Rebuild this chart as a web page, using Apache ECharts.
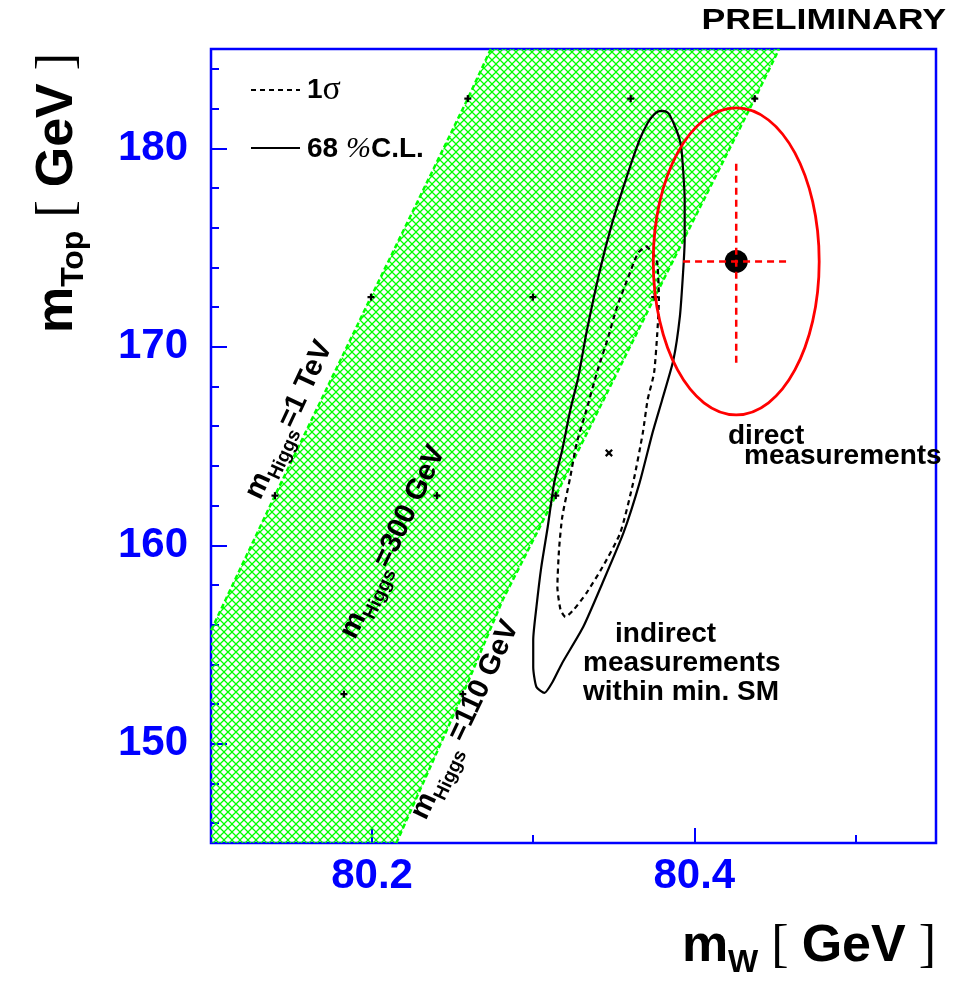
<!DOCTYPE html>
<html>
<head>
<meta charset="utf-8">
<script src="https://cdn.jsdelivr.net/npm/echarts@6/dist/echarts.min.js"></script>
<style>
  html, body { margin: 0; padding: 0; background: #ffffff; }
  #chart { width: 961px; height: 981px; }
</style>
</head>
<body>
<div id="chart"></div>
<script>
// ---- axis ticks (GeV) ----
const xMajorTicks = [80.2, 80.4];
const xMinorTicks = [80.1, 80.3, 80.5];
const yMajorTicks = [150, 160, 170, 180];
const yMinorTicks = [146, 148, 152, 154, 156, 158, 162, 164, 166, 168, 172, 174, 176, 178, 182, 184];

// ---- SM prediction band, [mW, mTop] ----
// m_Higgs = 1 TeV edge (top to bottom)
const higgs1TeV = [[80.2737, 185], [80.2594, 182.5], [80.1993, 172.5], [80.1397, 162.5], [80.1, 155.7]];
// m_Higgs = 110 GeV edge (bottom to top)
const higgs110GeV = [[80.215, 145], [80.2563, 152.5], [80.281, 157.24], [80.314, 162.5], [80.3754, 172.5], [80.4375, 182.5], [80.4526, 185]];
const bandCorner = [[80.1, 145]];
// grid points on the 1 TeV, 300 GeV and 110 GeV lines
const higgsPoints = [
  [80.2594, 182.5], [80.1993, 172.5], [80.1397, 162.5],
  [80.3605, 182.5], [80.2998, 172.5], [80.2402, 162.5], [80.1825, 152.5],
  [80.4375, 182.5], [80.3754, 172.5], [80.314, 162.5], [80.2563, 152.5]
];
const bestFit = [[80.347, 164.65]];

// ---- indirect measurements, fit contours ----
const contour68 = [
  [80.3802, 181.88], [80.3829, 181.83], [80.3847, 181.68], [80.3889, 180.92], [80.3914, 180.26],
  [80.3926, 179.41], [80.394, 177.39], [80.394, 175.38], [80.393, 173.72], [80.391, 171.50],
  [80.387, 169.33], [80.380, 167.32], [80.374, 165.65], [80.366, 163.14], [80.356, 160.62],
  [80.343, 158.10], [80.331, 155.88], [80.318, 154.07], [80.312, 153.11], [80.307, 152.56],
  [80.302, 152.86], [80.300, 153.87], [80.300, 155.23], [80.302, 156.89], [80.305, 158.90],
  [80.309, 160.92], [80.313, 163.14], [80.318, 164.80], [80.323, 166.81], [80.328, 168.48],
  [80.333, 170.69], [80.341, 173.72], [80.349, 176.23], [80.358, 178.55], [80.366, 180.42],
  [80.3712, 181.30], [80.3750, 181.70], [80.3776, 181.85], [80.3802, 181.88]
];
const contour1Sigma = [
  [80.370, 175.08], [80.374, 174.75], [80.377, 174.22], [80.378, 172.36], [80.377, 170.69],
  [80.375, 168.68], [80.371, 167.32], [80.368, 165.65], [80.362, 163.14], [80.354, 160.62],
  [80.343, 158.90], [80.333, 157.59], [80.325, 156.74], [80.320, 156.39], [80.317, 156.74],
  [80.315, 157.90], [80.316, 159.76], [80.318, 161.42], [80.323, 163.44], [80.327, 165.15],
  [80.333, 166.81], [80.340, 168.83], [80.346, 170.34], [80.352, 172.00], [80.359, 173.51],
  [80.365, 174.72], [80.370, 175.08]
];

// ---- direct measurements ----
const directPoint = [[80.426, 174.3]];
const directErrors = [0.033, 5.1];      // mW, mTop
const directEllipse = [0.0515, 7.73];   // 68% C.L. half axes

// cross-hatch fill for the band
const hatch = document.createElement('canvas');
hatch.width = 8; hatch.height = 8;
(function () {
  const g = hatch.getContext('2d');
  g.strokeStyle = '#00ff00';
  g.lineWidth = 1.25;
  g.beginPath();
  g.moveTo(-2, -2); g.lineTo(10, 10);
  g.moveTo(10, -2); g.lineTo(-2, 10);
  g.stroke();
})();

const SANS = 'Liberation Sans';
const SERIF = 'Liberation Serif';
const BLUE = '#0000ff';

function crossMark(size, diagonal) {
  return function (params, api) {
    const p = api.coord([api.value(0), api.value(1)]);
    const h = size;
    const segs = diagonal
      ? [[-h, -h, h, h], [-h, h, h, -h]]
      : [[-h, 0, h, 0], [0, -h, 0, h]];
    return {
      type: 'group',
      children: segs.map(s => ({
        type: 'line',
        shape: { x1: p[0] + s[0], y1: p[1] + s[1], x2: p[0] + s[2], y2: p[1] + s[3] },
        style: { stroke: '#000', lineWidth: 2.2 }
      }))
    };
  };
}

// rich text styles for labels with a subscript
function subRich(fs, fs2, drop) {
  return {
    m: { fontSize: fs, fontWeight: 'bold', fontFamily: SANS, lineHeight: fs, verticalAlign: 'top', fill: '#000' },
    s: { fontSize: fs2, fontWeight: 'bold', fontFamily: SANS, lineHeight: fs2, verticalAlign: 'top',
         padding: [Math.round(0.85 * (fs - fs2) + drop), 0, 0, 0], fill: '#000' },
    b: { fontSize: fs, fontWeight: 'normal', fontFamily: SERIF, lineHeight: fs, verticalAlign: 'top', fill: '#000' }
  };
}

const chart = echarts.init(document.getElementById('chart'));

const yAxisBase = {
  type: 'value', min: 145, max: 185, position: 'left',
  axisLine: { show: false }, splitLine: { show: false }
};
const xAxisBase = {
  type: 'value', min: 80.1, max: 80.55, position: 'bottom',
  axisLine: { show: false }, splitLine: { show: false }
};

chart.setOption({
  animation: false,
  backgroundColor: '#ffffff',
  grid: {
    left: 211, top: 49, right: 25, bottom: 138,
    show: true, borderColor: BLUE, borderWidth: 2.5, backgroundColor: 'transparent'
  },
  xAxis: [
    Object.assign({}, xAxisBase, {
      axisTick: { show: true, inside: true, length: 15, customValues: xMajorTicks, lineStyle: { color: BLUE, width: 2 } },
      axisLabel: {
        customValues: xMajorTicks, formatter: v => v.toFixed(1), margin: 12,
        color: BLUE, fontSize: 42, fontWeight: 'bold', fontFamily: SANS
      }
    }),
    Object.assign({}, xAxisBase, {
      axisTick: { show: true, inside: true, length: 8, customValues: xMinorTicks, lineStyle: { color: BLUE, width: 2 } },
      axisLabel: { show: false }
    })
  ],
  yAxis: [
    Object.assign({}, yAxisBase, {
      axisTick: { show: true, inside: true, length: 16, customValues: yMajorTicks, lineStyle: { color: BLUE, width: 2 } },
      axisLabel: {
        customValues: yMajorTicks, margin: 23,
        color: BLUE, fontSize: 42, fontWeight: 'bold', fontFamily: SANS
      }
    }),
    Object.assign({}, yAxisBase, {
      axisTick: { show: true, inside: true, length: 8, customValues: yMinorTicks, lineStyle: { color: BLUE, width: 2 } },
      axisLabel: { show: false }
    })
  ],
  series: [
    // hatched SM band
    {
      type: 'custom', xAxisIndex: 0, yAxisIndex: 0, z: 1,
      data: higgs1TeV.slice(0, 1),
      renderItem: function (params, api) {
        if (params.dataIndex !== 0) return null;
        const pts = higgs1TeV.concat(bandCorner, higgs110GeV).map(p => api.coord(p));
        return { type: 'polygon', shape: { points: pts }, style: { fill: { image: hatch, repeat: 'repeat' }, stroke: null } };
      }
    },
    {
      type: 'line', data: higgs1TeV, showSymbol: false, z: 2, silent: true,
      lineStyle: { color: '#00ff00', width: 2.5, type: [5, 3] }
    },
    {
      type: 'line', data: higgs110GeV, showSymbol: false, z: 2, silent: true,
      lineStyle: { color: '#00ff00', width: 2.5, type: [5, 3] }
    },
    { type: 'custom', data: higgsPoints, z: 3, renderItem: crossMark(3.5, false) },
    { type: 'custom', data: bestFit, z: 3, renderItem: crossMark(3.2, true) },
    // indirect measurements
    {
      type: 'line', data: contour68, showSymbol: false, smooth: 0.2, z: 4, silent: true,
      lineStyle: { color: '#000', width: 2.2, join: 'round' }
    },
    {
      type: 'line', data: contour1Sigma, showSymbol: false, smooth: 0.2, z: 4, silent: true,
      lineStyle: { color: '#000', width: 2.2, type: [5, 4] }
    },
    // direct measurements
    {
      type: 'custom', data: directPoint, z: 5,
      renderItem: function (params, api) {
        const c = api.coord([api.value(0), api.value(1)]);
        const r = api.size(directEllipse);
        return { type: 'ellipse', shape: { cx: c[0], cy: c[1], rx: r[0], ry: r[1] },
                 style: { fill: null, stroke: '#ff0000', lineWidth: 2.8 } };
      }
    },
    {
      type: 'scatter', data: directPoint, symbol: 'circle', symbolSize: 23, z: 6, silent: true,
      itemStyle: { color: '#000', opacity: 1 }
    },
    {
      type: 'custom', data: directPoint, z: 7,
      renderItem: function (params, api) {
        const x = api.value(0), y = api.value(1);
        const a = api.coord([x - directErrors[0], y]), b = api.coord([x + directErrors[0], y]);
        const c = api.coord([x, y - directErrors[1]]), d = api.coord([x, y + directErrors[1]]);
        const st = { stroke: '#ff0000', lineWidth: 2.5, lineDash: [7, 5] };
        return {
          type: 'group', children: [
            { type: 'line', shape: { x1: a[0], y1: a[1], x2: b[0], y2: b[1] }, style: st },
            { type: 'line', shape: { x1: c[0], y1: c[1], x2: d[0], y2: d[1] }, style: st }
          ]
        };
      }
    }
  ],
  graphic: [
    // header
    { type: 'text', x: 946, y: 21, scaleX: 1.19, z: 10,
      style: { text: 'PRELIMINARY', align: 'right', verticalAlign: 'middle', fontSize: 30, fontWeight: 'bold', fontFamily: SANS, fill: '#000' } },
    // legend
    { type: 'line', shape: { x1: 251, y1: 90, x2: 300, y2: 90 }, style: { stroke: '#000', lineWidth: 2, lineDash: [5, 4] }, z: 10 },
    { type: 'line', shape: { x1: 251, y1: 148, x2: 300, y2: 148 }, style: { stroke: '#000', lineWidth: 2 }, z: 10 },
    { type: 'text', x: 307, y: 90, z: 10,
      style: { text: '{b|1}{g|σ}', align: 'left', verticalAlign: 'middle',
        rich: { b: { fontSize: 28, fontWeight: 'bold', fontFamily: SANS, fill: '#000' },
                g: { fontSize: 34, fontWeight: 'normal', fontFamily: SERIF, fill: '#000' } } } },
    { type: 'text', x: 307, y: 149, z: 10,
      style: { text: '{b|68 }{p|%}{b|C.L.}', align: 'left', verticalAlign: 'middle',
        rich: { b: { fontSize: 28, fontWeight: 'bold', fontFamily: SANS, fill: '#000' },
                p: { fontSize: 30, fontWeight: 'normal', fontStyle: 'italic', fontFamily: SERIF, fill: '#000' } } } },
    // annotations
    { type: 'text', x: 728, y: 436, z: 10,
      style: { text: 'direct', align: 'left', verticalAlign: 'middle', fontSize: 28, fontWeight: 'bold', fontFamily: SANS, fill: '#000' } },
    { type: 'text', x: 744, y: 456, z: 10,
      style: { text: 'measurements', align: 'left', verticalAlign: 'middle', fontSize: 28, fontWeight: 'bold', fontFamily: SANS, fill: '#000' } },
    { type: 'text', x: 615, y: 634, z: 10,
      style: { text: 'indirect', align: 'left', verticalAlign: 'middle', fontSize: 28, fontWeight: 'bold', fontFamily: SANS, fill: '#000' } },
    { type: 'text', x: 583, y: 663, z: 10,
      style: { text: 'measurements', align: 'left', verticalAlign: 'middle', fontSize: 28, fontWeight: 'bold', fontFamily: SANS, fill: '#000' } },
    { type: 'text', x: 583, y: 692, z: 10,
      style: { text: 'within min. SM', align: 'left', verticalAlign: 'middle', fontSize: 28, fontWeight: 'bold', fontFamily: SANS, fill: '#000' } },
    // Higgs mass labels along the band
    { type: 'text', x: 289, y: 420, rotation: 65 * Math.PI / 180, z: 10,
      style: { text: '{m|m}{s|Higgs}{m|=1 TeV}', align: 'center', verticalAlign: 'middle', rich: subRich(29, 19, 7) } },
    { type: 'text', x: 393, y: 542, rotation: 64.5 * Math.PI / 180, z: 10,
      style: { text: '{m|m}{s|Higgs}{m|=300 GeV}', align: 'center', verticalAlign: 'middle', rich: subRich(29, 19, 7) } },
    { type: 'text', x: 465, y: 720, rotation: 64.5 * Math.PI / 180, z: 10,
      style: { text: '{m|m}{s|Higgs}{m| =110 GeV}', align: 'center', verticalAlign: 'middle', rich: subRich(29, 19, 7) } },
    // axis titles
    { type: 'text', x: 936, y: 921, z: 10,
      style: { text: '{m|m}{s|W}{b| [ }{m|GeV}{b| ]}', align: 'right', verticalAlign: 'top', rich: subRich(52, 32, 9) } },
    { type: 'text', x: 58, y: 193, rotation: Math.PI / 2, z: 10,
      style: { text: '{m|m}{s|Top}{b| [ }{m|GeV}{b| ]}', align: 'center', verticalAlign: 'middle', rich: subRich(52, 32, 9) } }
  ]
});
</script>
</body>
</html>
